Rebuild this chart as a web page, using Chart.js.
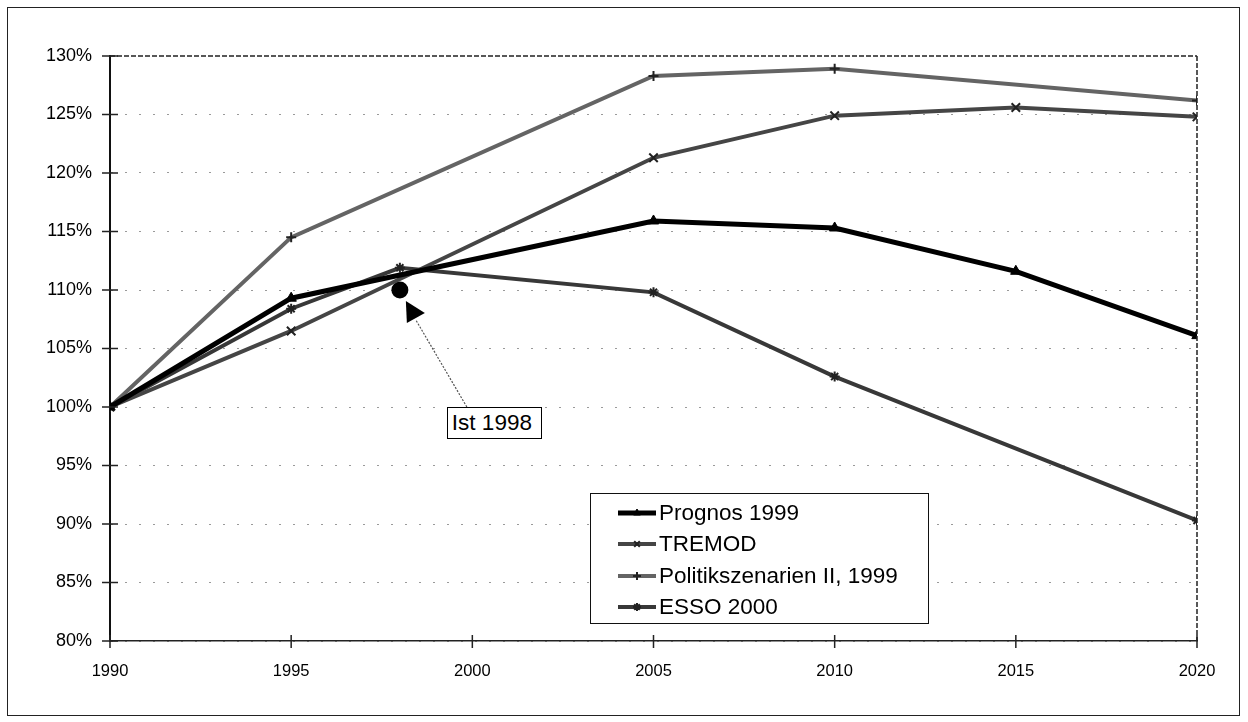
<!DOCTYPE html>
<html>
<head>
<meta charset="utf-8">
<title>Entwicklung 1990–2020</title>
<script src="https://cdn.jsdelivr.net/npm/chart.js@4/dist/chart.umd.min.js"></script>
<style>
  html, body { margin: 0; padding: 0; background: #fff; }
  #wrap { position: relative; width: 1248px; height: 722px; overflow: hidden; }
  #frame { position: absolute; left: 7px; top: 7px; width: 1233px; height: 709px;
           border: 1.5px solid #222; box-sizing: border-box; pointer-events: none; }
  #legend { position: absolute; left: 590px; top: 493px; width: 339px; height: 131px;
            border: 1.5px solid #111; box-sizing: border-box; background: #fff;
            font-family: Arial, "Liberation Sans", sans-serif; font-size: 22.5px; color: #000; }
  .row { position: absolute; left: 26px; height: 30px; display: flex; align-items: center; white-space: nowrap; }
  .row canvas { margin-right: 2px; }
  #ist { position: absolute; border: 1.5px solid #000; background: #fff; box-sizing: border-box;
         font-family: Arial, "Liberation Sans", sans-serif; font-size: 22.5px; color: #000;
         width: 95px; height: 32px; line-height: 30px; padding-left: 4px; white-space: nowrap; }
</style>
</head>
<body>
<div id="wrap">
  <canvas id="chart" width="1248" height="722"></canvas>
  <div id="legend"></div>
  <div id="ist">Ist 1998</div>
  <div id="frame"></div>
</div>
<script>
// Index values, 1990 = 100 %
const yearTicks = [1990, 1995, 2000, 2005, 2010, 2015, 2020];
const percentTicks = [80, 85, 90, 95, 100, 105, 110, 115, 120, 125, 130];

const seriesNames = ['Prognos 1999', 'TREMOD', 'Politikszenarien II, 1999', 'ESSO 2000'];

const prognosYears  = [1990, 1995, 2005, 2010, 2015, 2020];
const prognosValues = [100, 109.3, 115.9, 115.3, 111.6, 106.1];

const tremodYears  = [1990, 1995, 2005, 2010, 2015, 2020];
const tremodValues = [100, 106.5, 121.3, 124.9, 125.6, 124.8];

const politikYears  = [1990, 1995, 2005, 2010, 2020];
const politikValues = [100, 114.5, 128.3, 128.9, 126.2];

const essoYears  = [1990, 1995, 1998, 2005, 2010, 2020];
const essoValues = [100, 108.4, 111.9, 109.8, 102.6, 90.3];

const istYear = 1998;
const istValue = 110.0;
const istText = 'Ist 1998';

const pts = (xs, ys) => xs.map((x, i) => ({ x: x, y: ys[i] }));

const datasets = [
  { label: seriesNames[0], data: pts(prognosYears, prognosValues),
    borderColor: '#000', backgroundColor: '#000', borderWidth: 5,
    pointStyle: 'triangle', pointRadius: 6, pointBorderWidth: 1 },
  { label: seriesNames[1], data: pts(tremodYears, tremodValues),
    borderColor: '#454545', backgroundColor: '#454545', borderWidth: 4,
    pointStyle: 'crossRot', pointRadius: 6, pointBorderWidth: 2, pointBorderColor: '#222' },
  { label: seriesNames[2], data: pts(politikYears, politikValues),
    borderColor: '#646464', backgroundColor: '#646464', borderWidth: 4,
    pointStyle: 'cross', pointRadius: 5, pointBorderWidth: 2, pointBorderColor: '#222' },
  { label: seriesNames[3], data: pts(essoYears, essoValues),
    borderColor: '#383838', backgroundColor: '#383838', borderWidth: 4,
    pointStyle: 'star', pointRadius: 5, pointBorderWidth: 2, pointBorderColor: '#222' },
  { label: istText, data: [{ x: istYear, y: istValue }], showLine: false,
    borderColor: '#000', backgroundColor: '#000', pointStyle: 'circle',
    pointRadius: 8.5, pointBorderWidth: 0, hideInLegend: true }
];
datasets.forEach(d => { d.tension = 0; d.fill = false; d.pointHoverRadius = d.pointRadius; });

// Axis tick marks that cross the axis lines, the dashed top/right frame,
// and the arrow pointing from the "Ist 1998" box to its point.
const decorations = {
  id: 'decorations',
  afterDatasetsDraw(chart) {
    const { ctx, chartArea: a, scales: { x, y } } = chart;
    ctx.save();
    ctx.strokeStyle = '#222';
    ctx.lineWidth = 1.5;
    ctx.setLineDash([5, 2]);
    ctx.beginPath();
    ctx.moveTo(a.left, a.top); ctx.lineTo(a.right, a.top);
    ctx.moveTo(a.right, a.top); ctx.lineTo(a.right, a.bottom);
    ctx.stroke();
    ctx.setLineDash([]);
    ctx.lineWidth = 1.5;
    ctx.beginPath();
    y.ticks.forEach(t => {
      const py = y.getPixelForValue(t.value);
      ctx.moveTo(a.left - 8, py); ctx.lineTo(a.left + 8, py);
    });
    x.ticks.forEach(t => {
      const px = x.getPixelForValue(t.value);
      ctx.moveTo(px, a.bottom - 6); ctx.lineTo(px, a.bottom + 7);
    });
    ctx.stroke();

    // annotation arrow
    const px = x.getPixelForValue(istYear), py = y.getPixelForValue(istValue);
    const box = document.getElementById('ist');
    box.style.left = (px + 47) + 'px';
    box.style.top = (py + 117) + 'px';
    ctx.strokeStyle = '#555';
    ctx.lineWidth = 1.2;
    ctx.setLineDash([2, 1.5]);
    ctx.beginPath();
    ctx.moveTo(px + 67, py + 117);
    ctx.lineTo(px + 16, py + 30);
    ctx.stroke();
    ctx.setLineDash([]);
    ctx.fillStyle = '#000';
    ctx.beginPath();
    ctx.moveTo(px + 6, py + 11);
    ctx.lineTo(px + 25, py + 23);
    ctx.lineTo(px + 7, py + 33);
    ctx.closePath();
    ctx.fill();
    ctx.restore();
  }
};

const chart = new Chart(document.getElementById('chart'), {
  type: 'line',
  data: { datasets: datasets },
  plugins: [decorations],
  options: {
    responsive: false,
    animation: false,
    layout: { padding: { left: 0, top: 56, right: 51, bottom: 30 } },
    plugins: { legend: { display: false }, tooltip: { enabled: false } },
    scales: {
      x: {
        type: 'linear', min: 1990, max: 2020,
        afterFit(s) { s.height = 51; },
        afterBuildTicks(s) { s.ticks = yearTicks.map(v => ({ value: v })); },
        grid: { display: false, drawTicks: false },
        border: { display: true, color: '#222', width: 1.5 },
        ticks: { padding: 21, color: '#000', maxRotation: 0,
                 font: { family: 'Arial, "Liberation Sans"', size: 16.5 },
                 callback: v => String(v) }
      },
      y: {
        type: 'linear', min: 80, max: 130,
        afterFit(s) { s.width = 110; },
        afterBuildTicks(s) { s.ticks = percentTicks.map(v => ({ value: v })); },
        grid: { drawTicks: false, lineWidth: 1,
                color: c => (c.tick && c.tick.value === 130) ? 'rgba(0,0,0,0)' : '#9a9a9a' },
        border: { display: true, color: '#111', width: 2, dash: [2, 12] },
        ticks: { padding: 18, color: '#000',
                 font: { family: 'Arial, "Liberation Sans"', size: 18 },
                 callback: v => v + '%' }
      }
    }
  }
});

// Legend built from the datasets
const legend = document.getElementById('legend');
datasets.filter(d => !d.hideInLegend).forEach((d, i) => {
  const row = document.createElement('div');
  row.className = 'row';
  row.style.top = (4 + i * 31.3) + 'px';
  const c = document.createElement('canvas');
  c.width = 40; c.height = 20;
  const g = c.getContext('2d');
  g.strokeStyle = d.borderColor;
  g.lineWidth = d.borderWidth;
  g.beginPath(); g.moveTo(1, 10); g.lineTo(39, 10); g.stroke();
  g.fillStyle = d.backgroundColor;
  g.strokeStyle = d.pointBorderColor || d.borderColor;
  g.lineWidth = d.pointBorderWidth || 1;
  Chart.helpers.drawPoint(g, { pointStyle: d.pointStyle, radius: 4, borderWidth: d.pointBorderWidth || 1, rotation: 0 }, 20, 10);
  const span = document.createElement('span');
  span.textContent = d.label;
  row.appendChild(c);
  row.appendChild(span);
  legend.appendChild(row);
});
</script>
</body>
</html>
